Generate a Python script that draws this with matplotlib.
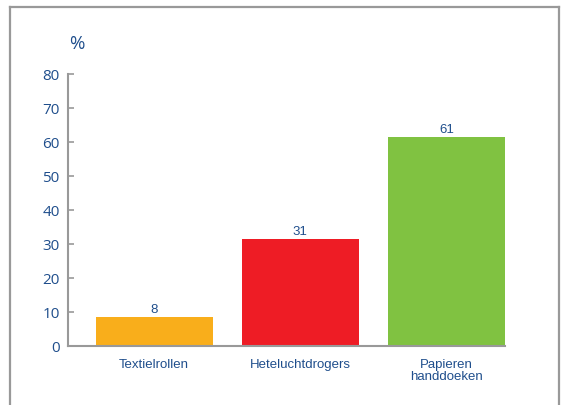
import matplotlib.pyplot as plt
from matplotlib.lines import Line2D

categories = ['Textielrollen', 'Heteluchtdrogers', 'Papieren\nhanddoeken']
values = [8.5, 31.5, 61.5]
value_labels = ['8', '31', '61']
colors = ['#F9AE1B', '#EE1C25', '#80C241']

W, H = 563, 406
fig = plt.figure(figsize=(W / 100, H / 100), dpi=100)
ax = fig.add_axes([68 / W, 1 - 347 / H, (505 - 68) / W, (347 - 75) / H])

blue = '#1F4E8C'
grey = '#999999'
arial = 'Liberation Sans'

x = range(len(categories))
ax.bar(x, values, width=0.8, color=colors)
for i, (v, lab) in enumerate(zip(values, value_labels)):
    ax.text(i, v + 0.6, lab, ha='center', va='bottom', color=blue,
            fontsize=9.5, family=arial)

ax.set_xlim(-0.59, 2.4)
ax.set_ylim(0, 80)
ax.set_yticks(range(0, 81, 10))
ax.set_xticks(list(x))
ax.set_xticklabels(categories, color=blue, fontsize=9.5, family=arial, linespacing=0.9)
ax.tick_params(axis='x', length=0, pad=9)
ax.tick_params(axis='y', direction='in', length=4, width=1.2, color=grey,
               labelcolor=blue, labelsize=11, pad=6)
for t in ax.get_yticklabels():
    t.set_family('Open Sans')
for s in ['top', 'right']:
    ax.spines[s].set_visible(False)
for s in ['left', 'bottom']:
    ax.spines[s].set_color(grey)
    ax.spines[s].set_linewidth(1.5)

fig.text(77 / W, 1 - 44 / H, '%', color=blue, fontsize=13.5, family='Open Sans',
         ha='center', va='center')

# outer frame (open at the bottom)
fx0, fx1, fy = 10 / W, 559 / W, 1 - 8 / H
for xs, ys in [([fx0, fx0], [0, fy]), ([fx0, fx1], [fy, fy]), ([fx1, fx1], [fy, 0])]:
    fig.add_artist(Line2D(xs, ys, color=grey, lw=1.6, transform=fig.transFigure))

fig.savefig('out.png', dpi=100)
